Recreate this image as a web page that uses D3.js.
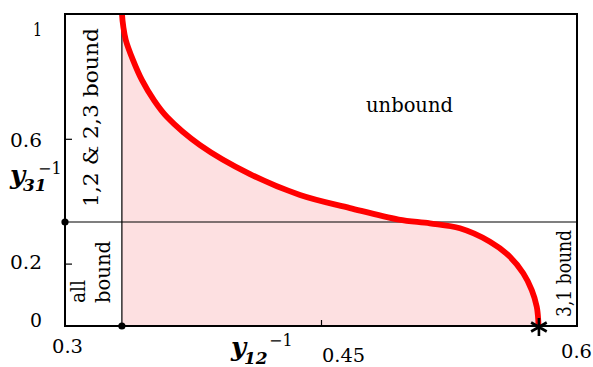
<!DOCTYPE html>
<html>
<head>
<meta charset="utf-8">
<script src="https://cdn.jsdelivr.net/npm/d3@7"></script>
<style>
  html, body { margin: 0; padding: 0; background: #fff; }
  svg { display: block; }
  text { font-family: "DejaVu Serif", serif; fill: #000; }
</style>
</head>
<body>
<div id="chart"></div>
<script>
// ---- data ----
const curveX = [0.33335, 0.3334, 0.3342, 0.3356, 0.3398, 0.3451, 0.3521, 0.3598, 0.3791, 0.4084, 0.4377, 0.4670, 0.4955, 0.5138, 0.5314, 0.5490, 0.5607, 0.5685, 0.5735, 0.5764, 0.5773, 0.5774];
const curveY = [1.08, 1.0, 0.958, 0.917, 0.853, 0.788, 0.724, 0.670, 0.580, 0.487, 0.420, 0.378, 0.341, 0.329, 0.313, 0.270, 0.222, 0.169, 0.115, 0.062, 0.019, 0.0];
const threshold = 1 / 3;            // y12^-1 = 1/3 and y31^-1 = 1/3 boundaries
const dotsX = [0.3, 1 / 3];
const dotsY = [1 / 3, 0];
const starX = [0.5774];
const starY = [0];
const yTickValues = [0.2, 0.6];
const yTickLabels = ["1", "0.6", "0.2", "0"];
const yTickLabelValues = [1, 0.6, 0.2, 0];
const xTickValues = [0.45];
const xTickLabels = ["0.3", "0.45", "0.6"];
const xTickLabelValues = [0.3, 0.45, 0.6];

// ---- layout ----
const W = 593, H = 367;
const svg = d3.select("#chart").append("svg").attr("width", W).attr("height", H);
const x = d3.scaleLinear().domain([0.3, 0.6]).range([65, 577]);
const y = d3.scaleLinear().domain([0, 1]).range([326, 14]);

const pts = curveX.map((v, i) => ({ x: v, y: curveY[i] }));

svg.append("clipPath").attr("id", "plotclip")
  .append("rect").attr("x", 65).attr("y", 14).attr("width", 512).attr("height", 312);

const g = svg.append("g").attr("clip-path", "url(#plotclip)");

// shaded region
const area = d3.area()
  .y(d => y(d.y))
  .x0(x(threshold))
  .x1(d => x(d.x))
  .curve(d3.curveCatmullRom.alpha(0.5));
g.append("path").datum(pts).attr("d", area).attr("fill", "#fde0e1").attr("stroke", "none");

// boundary lines
g.append("line").attr("x1", x(threshold)).attr("x2", x(threshold))
  .attr("y1", y(0)).attr("y2", y(1)).attr("stroke", "#000").attr("stroke-width", 1.2);
g.append("line").attr("x1", x(0.3)).attr("x2", x(0.6))
  .attr("y1", y(threshold)).attr("y2", y(threshold)).attr("stroke", "#000").attr("stroke-width", 1.2);

// curve
const line = d3.line().x(d => x(d.x)).y(d => y(d.y)).curve(d3.curveCatmullRom.alpha(0.5));
g.append("path").datum(pts).attr("d", line).attr("fill", "none")
  .attr("stroke", "#ff0000").attr("stroke-width", 5.8).attr("stroke-linecap", "butt")
  .attr("stroke-linejoin", "round");

// axes ticks (inward)
const ya = svg.append("g").attr("transform", `translate(${x(0.3)},0)`)
  .call(d3.axisLeft(y).tickValues(yTickValues).tickSize(-7).tickFormat(""));
const xa = svg.append("g").attr("transform", `translate(0,${y(0)})`)
  .call(d3.axisBottom(x).tickValues(xTickValues).tickSize(-6).tickFormat(""));
[ya, xa].forEach(a => {
  a.select(".domain").remove();
  a.selectAll(".tick line").attr("stroke", "#000").attr("stroke-width", 1.2);
});

// frame
svg.append("rect").attr("x", 65).attr("y", 14).attr("width", 512).attr("height", 312)
  .attr("fill", "none").attr("stroke", "#000").attr("stroke-width", 2);

// dots
svg.selectAll("circle.dot").data(dotsX.map((v, i) => [v, dotsY[i]])).enter()
  .append("circle").attr("class", "dot")
  .attr("cx", d => x(d[0])).attr("cy", d => y(d[1])).attr("r", 3.6).attr("fill", "#000");

// star
starX.forEach((sx, i) => {
  const cx = x(sx) + 0.5, cy = y(starY[i]) + 1, r = 9;
  const p = d3.path();
  for (let k = 0; k < 3; k++) {
    const a = Math.PI / 2 + k * Math.PI / 3;
    p.moveTo(cx + r * Math.cos(a), cy + r * Math.sin(a));
    p.lineTo(cx - r * Math.cos(a), cy - r * Math.sin(a));
  }
  svg.append("path").attr("d", p.toString()).attr("stroke", "#000").attr("stroke-width", 2.6).attr("fill", "none");
});

// y tick labels
const yLabelOffsets = [22, 8, 5.5, 1];
const yLabelLens = [9, 32, 32, 12];
yTickLabels.forEach((t, i) => {
  svg.append("text").attr("x", 42).attr("y", y(yTickLabelValues[i]) + yLabelOffsets[i])
    .attr("text-anchor", "end").attr("font-size", 19)
    .attr("textLength", yLabelLens[i]).attr("lengthAdjust", "spacingAndGlyphs").text(t);
});

// x tick labels
const xLabelPos = [{ dx: 2.5, y: 353, anchor: "middle", len: 31 }, { dx: 1, y: 362, anchor: "start", len: 43 }, { dx: -16, y: 358, anchor: "start", len: 31 }];
xTickLabels.forEach((t, i) => {
  const o = xLabelPos[i];
  svg.append("text").attr("x", x(xTickLabelValues[i]) + o.dx).attr("y", o.y)
    .attr("text-anchor", o.anchor).attr("font-size", 19)
    .attr("textLength", o.len).attr("lengthAdjust", "spacingAndGlyphs").text(t);
});

// axis titles (single text each: bold italic y, bold italic subscript, superscript -1)
function title(xx, yy, sub, bx, by, px, py) {
  const t = svg.append("text").attr("x", xx).attr("y", yy)
    .attr("font-size", 26).attr("font-weight", "bold").attr("font-style", "italic");
  t.append("tspan").text("y");
  t.append("tspan").attr("x", bx).attr("y", by).attr("font-size", 17).text(sub);
  t.append("tspan").attr("x", px).attr("y", py).attr("font-size", 16)
    .attr("font-weight", "normal").attr("font-style", "normal").text("\u22121");
}
title(10, 184, "31", 23, 191, 38, 174);
title(231, 356, "12", 244, 364, 269, 346);

// region labels
svg.append("text").attr("x", 366).attr("y", 112).attr("font-size", 20)
  .attr("textLength", 87).attr("lengthAdjust", "spacingAndGlyphs").text("unbound");

function vtext(t, tx, ty, len, anchor) {
  svg.append("text").attr("transform", `translate(${tx},${ty}) rotate(-90)`)
    .attr("text-anchor", anchor).attr("font-size", 20)
    .attr("textLength", len).attr("lengthAdjust", "spacingAndGlyphs").text(t);
}
vtext("1,2 & 2,3 bound", 98, 207, 179, "start");
vtext("all", 85, 303, 23, "start");
vtext("bound", 110, 303, 62, "start");
vtext("3,1 bound", 571, 317, 87, "start");
</script>
</body>
</html>
